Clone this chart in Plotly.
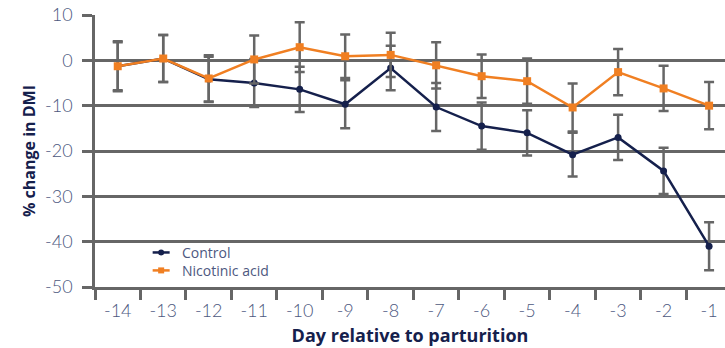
import plotly.graph_objects as go

# Days relative to parturition (category labels)
days = ["-14", "-13", "-12", "-11", "-10", "-9", "-8", "-7", "-6", "-5", "-4", "-3", "-2", "-1"]

# % change in dry matter intake and error (±)
control = [-1.3, 0.4, -4.2, -5.0, -6.4, -9.7, -1.7, -10.3, -14.5, -16.0, -20.8, -17.0, -24.4, -41.0]
control_err = [5.3, 5.2, 5.0, 5.3, 5.0, 5.3, 4.9, 5.3, 5.2, 5.0, 4.8, 5.0, 5.1, 5.3]

nicotinic = [-1.3, 0.4, -4.0, 0.2, 2.9, 0.9, 1.2, -1.1, -3.5, -4.6, -10.4, -2.6, -6.2, -10.0]
nicotinic_err = [5.5, 5.2, 5.1, 5.3, 5.5, 4.8, 4.9, 5.1, 4.8, 5.0, 5.3, 5.1, 5.0, 5.2]

series_names = ["Control", "Nicotinic acid"]

y_ticks = [10, 0, -10, -20, -30, -40, -50]
y_ticktext = ["10", "0", "-10", "-20", "-30", "-40", "-50"]

NAVY = "#15204c"
ORANGE = "#f07f22"
GRID = "#666666"
LABEL = "#4d5880"
TICK_FONT = dict(family="Lato, sans-serif", size=18, color=LABEL, weight=300)
TITLE_FONT = "Open Sans, sans-serif"

fig = go.Figure()

fig.add_trace(go.Scatter(
    x=days, y=control, name=series_names[0], mode="lines+markers",
    line=dict(color=NAVY, width=2.5),
    marker=dict(symbol="circle", size=7, color=NAVY),
    error_y=dict(type="data", array=control_err, visible=True,
                 color=GRID, thickness=2.5, width=5),
))
fig.add_trace(go.Scatter(
    x=days, y=nicotinic, name=series_names[1], mode="lines+markers",
    line=dict(color=ORANGE, width=2.5),
    marker=dict(symbol="square", size=8, color=ORANGE),
    error_y=dict(type="data", array=nicotinic_err, visible=True,
                 color=GRID, thickness=2.5, width=5),
))

# Compact legend drawn in paper coordinates (tight row spacing)
legend_rows = [
    (series_names[0], NAVY, "circle", 0.127),
    (series_names[1], ORANGE, "rect", 0.061),
]
key_x = 0.105  # paper x of the key glyph centre
for label, colour, glyph, ky in legend_rows:
    fig.add_shape(type="line", xref="paper", yref="paper",
                  xsizemode="pixel", xanchor=key_x, x0=-8.5, x1=8.5,
                  y0=ky, y1=ky, line=dict(color=colour, width=2.5))
    fig.add_shape(type=glyph, xref="paper", yref="paper",
                  xsizemode="pixel", ysizemode="pixel",
                  xanchor=key_x, yanchor=ky,
                  x0=-3, x1=3, y0=-3, y1=3,
                  fillcolor=colour, line=dict(color=colour, width=0))
    fig.add_annotation(text=label, xref="paper", yref="paper",
                       x=0.135, y=ky, xanchor="left", yanchor="middle",
                       showarrow=False,
                       font=dict(family="Open Sans, sans-serif", size=14, color=LABEL))

fig.update_layout(
    width=725, height=348,
    margin=dict(l=95, r=0, t=15, b=61),
    paper_bgcolor="white", plot_bgcolor="white",
    font=dict(family="Lato, sans-serif", color=LABEL, size=17),
    showlegend=False,
    xaxis=dict(
        type="category", range=[-0.5, 13.35],
        tickson="boundaries", ticks="outside", ticklen=10, tickwidth=2.5,
        tickcolor=GRID, showline=True, linecolor=GRID, linewidth=2.5,
        showgrid=False, ticklabelstandoff=6,
        tickfont=TICK_FONT,
        title=dict(text="<b>Day relative to parturition</b>", standoff=10,
                   font=dict(size=18, color=NAVY, family=TITLE_FONT)),
    ),
    yaxis=dict(
        range=[-50, 10], tickvals=y_ticks, ticktext=y_ticktext,
        ticks="outside", ticklen=10, tickwidth=2.5, tickcolor=GRID,
        showline=True, linecolor=GRID, linewidth=2.5,
        showgrid=True, gridcolor=GRID, gridwidth=2.5, zeroline=False,
        ticklabelstandoff=6,
        tickfont=TICK_FONT,
        title=dict(text="<b>% change in DMI</b>", standoff=6,
                   font=dict(size=16, color=NAVY, family=TITLE_FONT)),
    ),
)

fig.write_html("out.html")
